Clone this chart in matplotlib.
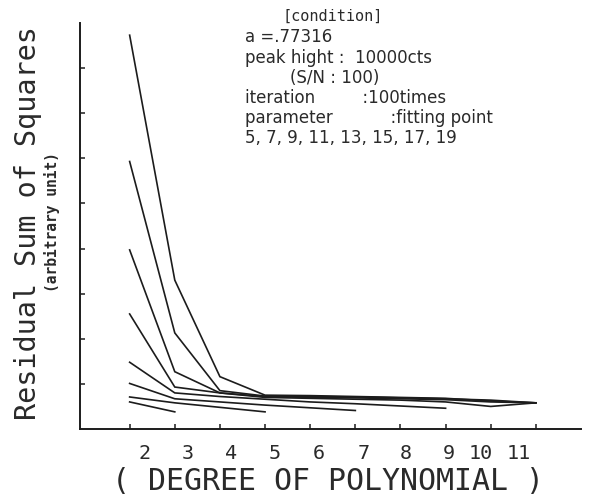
import matplotlib
matplotlib.use("Agg")
import matplotlib.pyplot as plt
from matplotlib.ticker import FixedLocator, NullFormatter

# ---- data ----
degree = [2, 3, 4, 5, 6, 7, 8, 9, 10, 11]
tick_labels = ["2", "3", "4", "5", "6", "7", "8", "9", "10", "11"]
fitting_points = [5, 7, 9, 11, 13, 15, 17, 19]
rss_5 = [0.60, 0.38]
rss_7 = [0.71, 0.58, 0.48, 0.38]
rss_9 = [1.01, 0.67, 0.60, 0.53, 0.47, 0.41]
rss_11 = [1.48, 0.80, 0.72, 0.66, 0.60, 0.56, 0.51, 0.46]
rss_13 = [2.55, 0.93, 0.80, 0.70, 0.68, 0.66, 0.64, 0.60, 0.50, 0.58]
rss_15 = [3.97, 1.27, 0.80, 0.72, 0.70, 0.69, 0.67, 0.65, 0.60, 0.58]
rss_17 = [5.93, 2.13, 0.85, 0.73, 0.72, 0.71, 0.69, 0.67, 0.64, 0.58]
rss_19 = [8.73, 3.30, 1.16, 0.75, 0.74, 0.72, 0.70, 0.68, 0.62, 0.58]
y_ticks = [1, 2, 3, 4, 5, 6, 7, 8]

# layout: horizontal shift of tick labels relative to tick marks (data units)
label_shift = [0.33, 0.29, 0.24, 0.22, 0.18, 0.18, 0.11, 0.07, -0.22, -0.38]

W, H = 603, 499
fig = plt.figure(figsize=(W / 100, H / 100), dpi=100)
ax = fig.add_axes([80 / W, 1 - 429 / H, (581 - 80) / W, (429 - 23) / H])

ink = "#1c1c1c"
txt_ink = "#2a2a2a"
series = [rss_5, rss_7, rss_9, rss_11, rss_13, rss_15, rss_17, rss_19]
for fp, ys in zip(fitting_points, series):
    ax.plot(degree[:len(ys)], ys, color=ink, lw=1.2, solid_joinstyle="miter")

ax.set_xlim(0.9, 12.0)
ax.set_ylim(0, 9.0)

for s in ["top", "right"]:
    ax.spines[s].set_visible(False)
for s in ["left", "bottom"]:
    ax.spines[s].set_color(ink)
    ax.spines[s].set_linewidth(1.4)

# tick marks at integer degrees, labels slightly shifted like the plotter output
ax.xaxis.set_minor_locator(FixedLocator(degree))
ax.xaxis.set_minor_formatter(NullFormatter())
ax.set_xticks([d + s for d, s in zip(degree, label_shift)])
ax.set_xticklabels(tick_labels, family="DejaVu Sans Mono", fontsize=14.5, color=txt_ink)
ax.tick_params(axis="x", which="major", length=0, pad=11)
ax.tick_params(axis="x", which="minor", direction="in", length=3.5, width=1.1, color=ink)

ax.set_yticks(y_ticks)
ax.set_yticklabels([])
ax.tick_params(axis="y", which="major", direction="in", length=3.5, width=1.1, color=ink)

mono = "DejaVu Sans Mono"
fig.text(328 / W, 1 - 482 / H, "( DEGREE OF POLYNOMIAL )", family=mono,
         fontsize=21.5, color=txt_ink, ha="center", va="center")
fig.text(28 / W, 1 - 223 / H, "Residual Sum of Squares", family=mono,
         fontsize=20.5, color=txt_ink, ha="center", va="center", rotation=90)
fig.text(52 / W, 1 - 222 / H, "(arbitrary unit)", family=mono, fontweight="bold",
         fontsize=10.5, color=txt_ink, ha="center", va="center", rotation=90)

fig.text(333 / W, 1 - 16 / H, "[condition]", family=mono, fontsize=11,
         color=txt_ink, ha="center", va="center")
txt = dict(family="DejaVu Sans", fontsize=12, color=txt_ink, ha="left", va="center")
fig.text(245 / W, 1 - 37 / H, "a =.77316", **txt)
fig.text(245 / W, 1 - 58 / H, "peak hight :  10000cts", **txt)
fig.text(290 / W, 1 - 78 / H, "(S/N : 100)", **txt)
fig.text(245 / W, 1 - 98 / H, "iteration         :100times", **txt)
fig.text(245 / W, 1 - 118 / H, "parameter           :fitting point", **txt)
fig.text(245 / W, 1 - 138 / H, "5, 7, 9, 11, 13, 15, 17, 19", **txt)

fig.savefig("out.png", dpi=100)
